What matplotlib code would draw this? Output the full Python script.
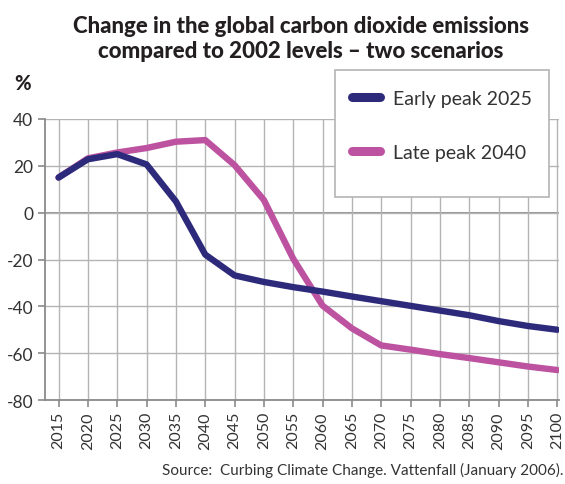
import matplotlib
matplotlib.use("Agg")
import matplotlib.pyplot as plt
from matplotlib.lines import Line2D
from matplotlib.patches import Rectangle

plt.rcParams['font.family'] = ['Lato', 'DejaVu Sans']

years = [2015, 2020, 2025, 2030, 2035, 2040, 2045, 2050, 2055,
         2060, 2065, 2070, 2075, 2080, 2085, 2090, 2095, 2100]
early_peak_2025 = [15, 22.8, 25, 20.6, 4.8, -17.9, -26.8, -29.6, -31.8,
                   -33.7, -35.8, -37.8, -39.8, -41.8, -43.8, -46.3, -48.4, -50]
late_peak_2040 = [15, 23.2, 25.7, 27.6, 30.3, 31.0, 20.3, 5.4, -19.7,
                  -39.7, -49.4, -56.7, -58.5, -60.4, -62.1, -63.9, -65.7, -67.2]
y_ticks = [40, 20, 0, -20, -40, -60, -80]
series_names = ['Early peak 2025', 'Late peak 2040']

navy = '#2d2a7b'
magenta = '#bd52a0'
text_col = '#333333'
grid_col = '#b4b4b4'

fig = plt.figure(figsize=(5.65, 4.85), dpi=100)
W, H = 565, 485
ax = fig.add_axes([44.5 / W, 1 - 401 / H, (559 - 44.5) / W, (401 - 120) / H])

ax.plot(years, late_peak_2040, color=magenta, lw=4.6, solid_capstyle='round',
        solid_joinstyle='round', zorder=3)
ax.plot(years, early_peak_2025, color=navy, lw=4.6, solid_capstyle='round',
        solid_joinstyle='round', zorder=4)

ax.set_xlim(2012.6, 2100.3)
ax.set_ylim(-80, 40)
ax.set_xticks(years)
ax.set_xticklabels([str(y) for y in years], rotation=90, fontsize=11.5,
                   color=text_col)
ax.set_yticks(y_ticks)
ax.set_yticklabels([str(v) for v in y_ticks], fontsize=12.5, color=text_col)

ax.grid(True, color=grid_col, lw=1.0, zorder=0)
ax.axhline(0, color='#8a8a8a', lw=1.3, zorder=1)
for s in ['top', 'right']:
    ax.spines[s].set_visible(False)
for s in ['left', 'bottom']:
    ax.spines[s].set_color('#8a8a8a')
    ax.spines[s].set_linewidth(1.3)
ax.tick_params(axis='both', colors='#8a8a8a', length=5, width=1.2,
               labelcolor=text_col)
ax.tick_params(axis='y', pad=3)
ax.tick_params(axis='x', pad=3)

fig.text(301 / W, 1 - 39 / H,
         'Change in the global carbon dioxide emissions\ncompared to 2002 levels \u2013 two scenarios',
         ha='center', va='center', fontsize=16, fontweight='black',
         color='#231f20', linespacing=1.2)
fig.text(14 / W, 1 - 83 / H, '%', ha='left', va='center', fontsize=14.5,
         fontweight='black', color='#231f20')
fig.text(563 / W, 1 - 470 / H,
         'Source:  Curbing Climate Change. Vattenfall (January 2006).',
         ha='right', va='center', fontsize=11, color=text_col)

# legend panel
fig.patches.append(Rectangle((335 / W, 1 - 198 / H), (549 - 335) / W,
                             (198 - 71) / H, transform=fig.transFigure,
                             facecolor='white', edgecolor='#b4b4b4', lw=1.2,
                             zorder=5))
handles = [Line2D([], [], color=navy, lw=6.5, solid_capstyle='round'),
           Line2D([], [], color=magenta, lw=6.5, solid_capstyle='round')]
leg = fig.legend(handles, series_names,
                 loc='upper left', bbox_to_anchor=(352 / W, 1 - 91 / H),
                 frameon=False, fontsize=14,
                 labelcolor=text_col, handlelength=1.45, handletextpad=0.65,
                 labelspacing=1.9, borderpad=0, borderaxespad=0)
leg.set_zorder(6)

fig.savefig('out.png', dpi=100)
